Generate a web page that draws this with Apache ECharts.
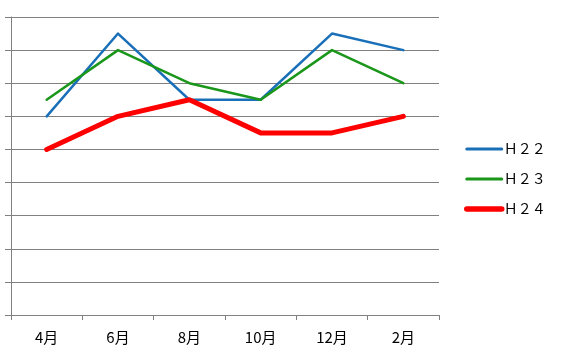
<!DOCTYPE html>
<html><head><meta charset="utf-8">
<script src="https://cdn.jsdelivr.net/npm/echarts@6/dist/echarts.min.js"></script>
<style>html,body{margin:0;padding:0;background:#fff}#c{width:567px;height:361px}</style>
</head><body><div id="c"></div>
<script>
var categories = ['4月','6月','8月','10月','12月','2月'];
var seriesNames = ['Ｈ２２','Ｈ２３','Ｈ２４'];
var h22 = [60, 85, 65, 65, 85, 80];
var h23 = [65, 80, 70, 65, 80, 70];
var h24 = [50, 60, 65, 55, 55, 60];
var yMin = 0, yMax = 90, yInterval = 10;

var chart = echarts.init(document.getElementById('c'), null, {renderer:'canvas'});
var font = '"Noto Sans CJK JP", sans-serif';
var widths = [2.5, 2.5, 5];
function mk(name, data, color, width){
  return {name:name, type:'line', data:data, symbol:'none', showSymbol:false, smooth:false,
    lineStyle:{color:color, width:width, join:'round', cap:'round'},
    itemStyle:{color:color}};
}
chart.setOption({
  animation:false,
  backgroundColor:'#fff',
  grid:{left:11, right:128, top:17, bottom:46, containLabel:false},
  legend:{orient:'vertical', left:459, top:137, itemWidth:35, itemHeight:14, itemGap:16,
    itemStyle:{opacity:0},
    textStyle:{fontFamily:font, fontSize:14, color:'#000', padding:[0,0,0,-3]},
    data:seriesNames.map(function(n,i){return {name:n, lineStyle:{width:widths[i]+0.5, cap:'round'}};})},
  xAxis:{type:'category', data:categories, boundaryGap:true,
    axisLine:{lineStyle:{color:'#808080', width:1}},
    axisTick:{show:true, length:5, lineStyle:{color:'#808080'}},
    axisLabel:{fontFamily:font, fontSize:15, color:'#000', margin:15}},
  yAxis:{type:'value', min:yMin, max:yMax, interval:yInterval,
    axisLine:{show:true, lineStyle:{color:'#808080', width:1}},
    axisTick:{show:true, length:6, lineStyle:{color:'#808080'}},
    axisLabel:{show:false},
    splitLine:{lineStyle:{color:'#808080', width:1}}},
  series:[
    mk(seriesNames[0], h22, '#1A70B8', widths[0]),
    mk(seriesNames[1], h23, '#1A961A', widths[1]),
    mk(seriesNames[2], h24, '#FF0000', widths[2])
  ]
});
</script></body></html>
